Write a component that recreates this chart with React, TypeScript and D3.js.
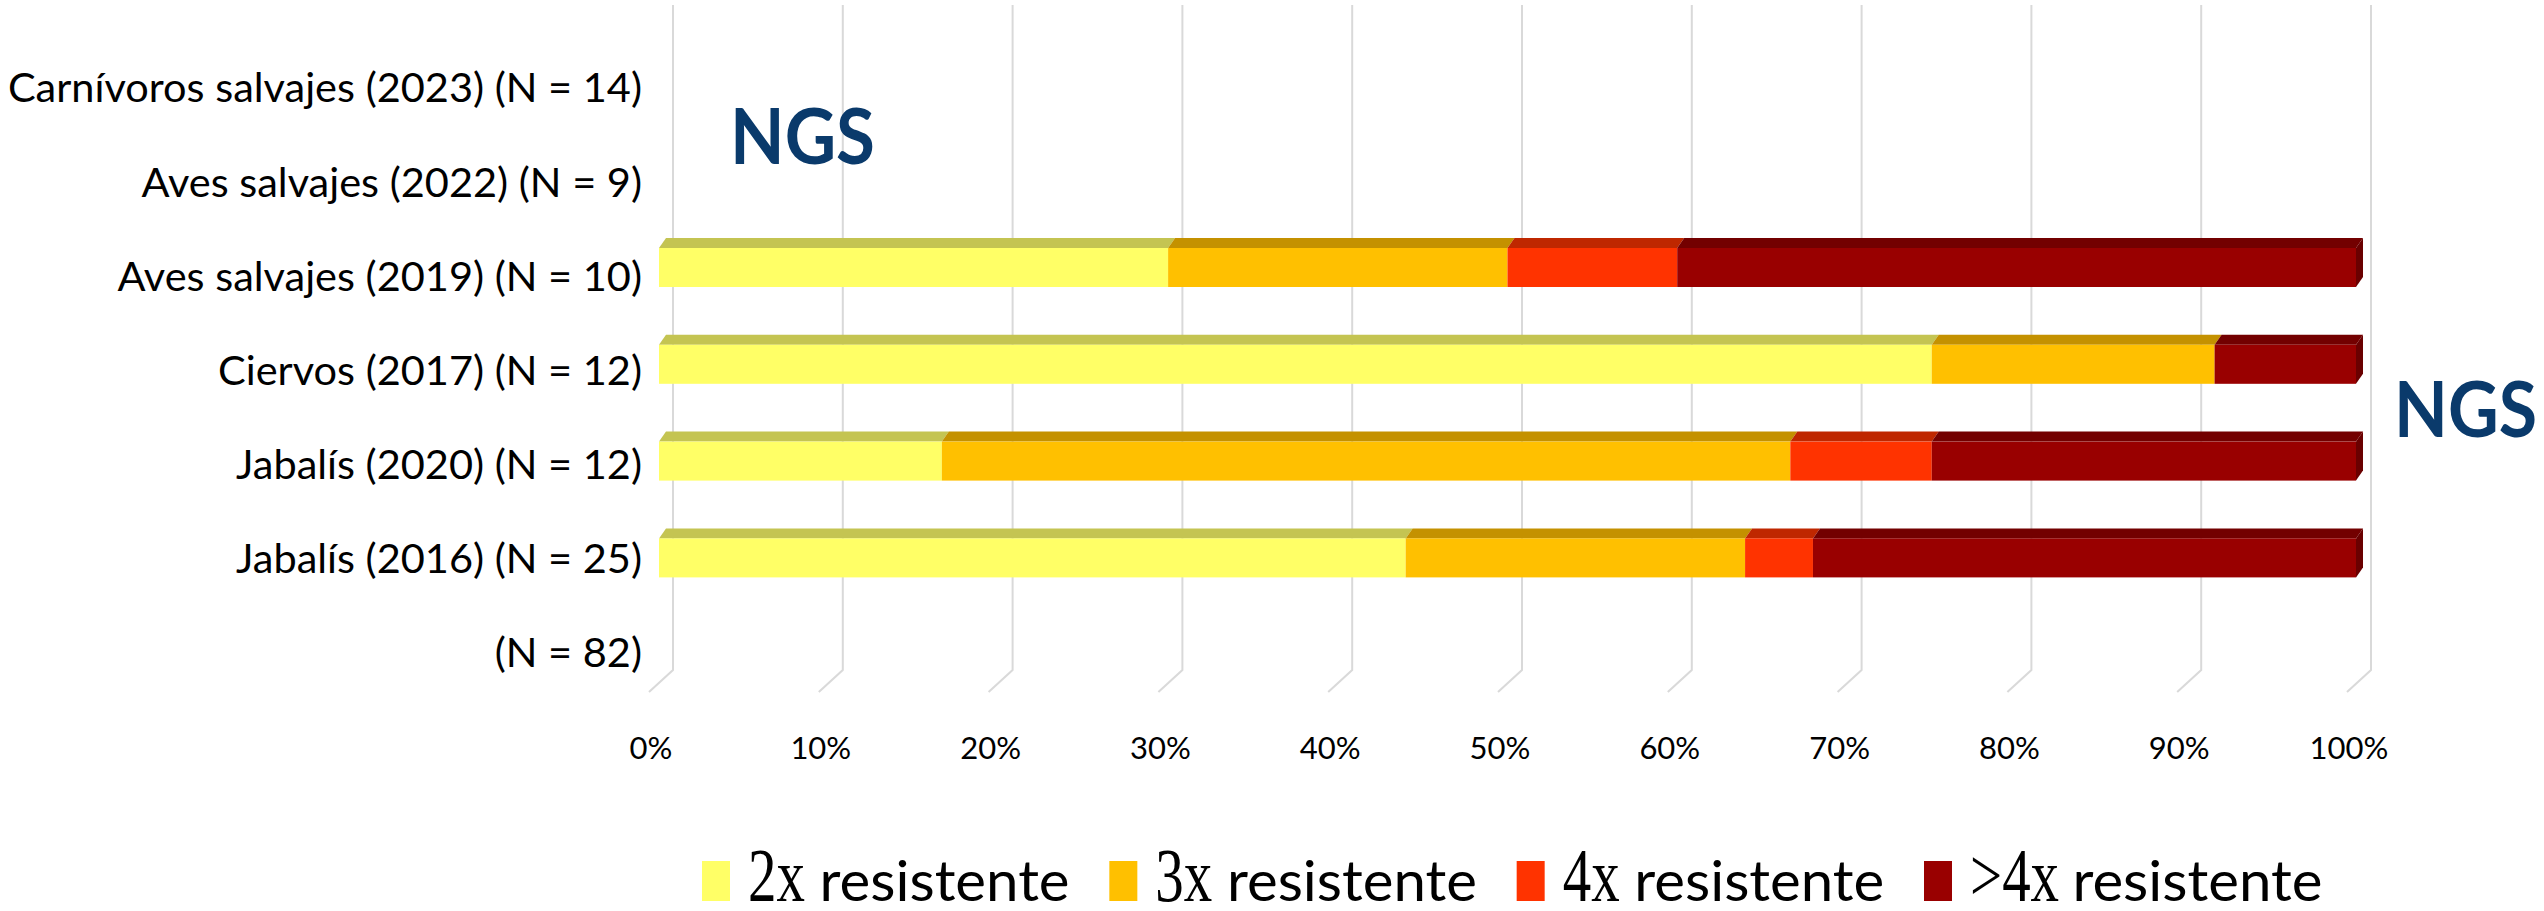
import React from "react";
import * as d3 from "d3";

const categories = [
  "Carnívoros salvajes (2023) (N = 14)",
  "Aves salvajes (2022) (N = 9)",
  "Aves salvajes (2019) (N = 10)",
  "Ciervos (2017) (N = 12)",
  "Jabalís (2020) (N = 12)",
  "Jabalís (2016) (N = 25)",
  "(N = 82)",
];

// counts of isolates per resistance class (bars are shown as % of the row)
const res2x = [0, 0, 3, 9, 2, 11, 0];
const res3x = [0, 0, 2, 2, 6, 5, 0];
const res4x = [0, 0, 1, 0, 1, 1, 0];
const res4plus = [0, 0, 4, 1, 3, 8, 0];

const seriesKeys = ["2x", "3x", "4x", ">4x"];
const legendSuffix = "resistente";
const tickValues = [0, 0.1, 0.2, 0.3, 0.4, 0.5, 0.6, 0.7, 0.8, 0.9, 1];

const frontColors = ["#FFFF66", "#FFC000", "#FF3300", "#990000"];
const topColors = ["#C4C452", "#C49100", "#BF2700", "#730000"];
const sideColor = "#6A0000";

const width = 2544;
const height = 911;
const sans = "Lato, 'Open Sans', sans-serif";
const serif = "'Liberation Serif', 'DejaVu Serif', serif";

export default function App() {
  const rows = categories.map((c, i) => ({
    cat: c,
    "2x": res2x[i],
    "3x": res3x[i],
    "4x": res4x[i],
    ">4x": res4plus[i],
  }));

  const stacked = d3
    .stack<any>()
    .keys(seriesKeys)
    .offset(d3.stackOffsetExpand)(rows);

  const xFront = d3.scaleLinear().domain([0, 1]).range([659, 2356]);
  const xBack = d3.scaleLinear().domain([0, 1]).range([673, 2371]);
  // bars and the axis labels sit at different depths of the 3D box
  const yBar = d3.scaleBand().domain(categories).range([25.5, 703.1]);
  const yLabel = d3.scaleBand().domain(categories).range([40.4, 699.1]);
  const fmt = d3.format(".0%");

  const depthX = 7;
  const depthY = 10;
  const barH = 39;
  const wallTop = 5;
  const wallBottom = 670;

  const legendX = d3.scaleLinear().domain([0, 3]).range([702, 1924]);

  return (
    <svg
      width={width}
      height={height}
      style={{ position: "absolute", left: 0, top: 0, display: "block", background: "#fff" }}
    >
      {/* back wall gridlines with floor slant */}
      <g>
        {tickValues.map((t) => (
          <path
            key={t}
            d={`M${xBack(t)},${wallTop}V${wallBottom}L${xBack(t) - 24},${wallBottom + 22}`}
            fill="none"
            stroke="#d9d9d9"
            strokeWidth={2}
          />
        ))}
      </g>

      {/* bars */}
      <g>
        {categories.map((c, ci) => {
          const cy = (yBar(c) as number) + yBar.bandwidth() / 2;
          const y0 = cy - barH / 2;
          let lastEnd = -1;
          const parts = stacked.map((s, si) => {
            const [a, b] = s[ci];
            if (!(b - a > 0)) return null;
            lastEnd = b;
            const x0 = xFront(a);
            const x1 = xFront(b);
            return (
              <g key={si}>
                <polygon
                  points={`${x0},${y0} ${x1},${y0} ${x1 + depthX},${y0 - depthY} ${x0 + depthX},${y0 - depthY}`}
                  fill={topColors[si]}
                />
                <rect x={x0} y={y0} width={x1 - x0} height={barH} fill={frontColors[si]} />
              </g>
            );
          });
          const xe = xFront(lastEnd);
          return (
            <g key={c}>
              {parts}
              {lastEnd > 0 && (
                <polygon
                  points={`${xe},${y0} ${xe + depthX},${y0 - depthY} ${xe + depthX},${y0 + barH - depthY} ${xe},${y0 + barH}`}
                  fill={sideColor}
                />
              )}
            </g>
          );
        })}
      </g>

      {/* category labels */}
      <g fontFamily={sans} fontSize={41.5} fill="#000" textAnchor="end">
        {categories.map((c) => (
          <text key={c} x={642} y={(yLabel(c) as number) + yLabel.bandwidth() / 2 + 15}>
            {c}
          </text>
        ))}
      </g>

      {/* x tick labels */}
      <g fontFamily={sans} fontSize={31} fill="#000" textAnchor="middle">
        {tickValues.map((t) => (
          <text key={t} x={xBack(t) - 22} y={759}>
            {fmt(t)}
          </text>
        ))}
      </g>

      {/* NGS marks */}
      <g fontFamily={sans} fontWeight={700} fontSize={76} fill="#0A3A6B">
        <text x={730} y={164} textLength={145} lengthAdjust="spacingAndGlyphs">NGS</text>
        <text x={2394} y={437} textLength={143} lengthAdjust="spacingAndGlyphs">NGS</text>
      </g>

      {/* legend */}
      <g>
        {seriesKeys.map((k, i) => {
          const lx = legendX(i);
          const px = lx + 46;
          const pw = k.length * 28.8 + (k.startsWith(">") ? 2 : 0);
          return (
            <g key={k}>
              <rect x={lx} y={861} width={28} height={40} fill={frontColors[i]} />
              <text
                transform={`translate(${px},901) scale(0.74,1)`}
                fontFamily={serif}
                fontSize={77}
                fill="#000"
              >
                {k}
              </text>
              <text
                x={px + pw + 14}
                y={901}
                fontFamily={sans}
                fontSize={56}
                fill="#000"
                textLength={250}
                lengthAdjust="spacingAndGlyphs"
              >
                {legendSuffix}
              </text>
            </g>
          );
        })}
      </g>
    </svg>
  );
}
